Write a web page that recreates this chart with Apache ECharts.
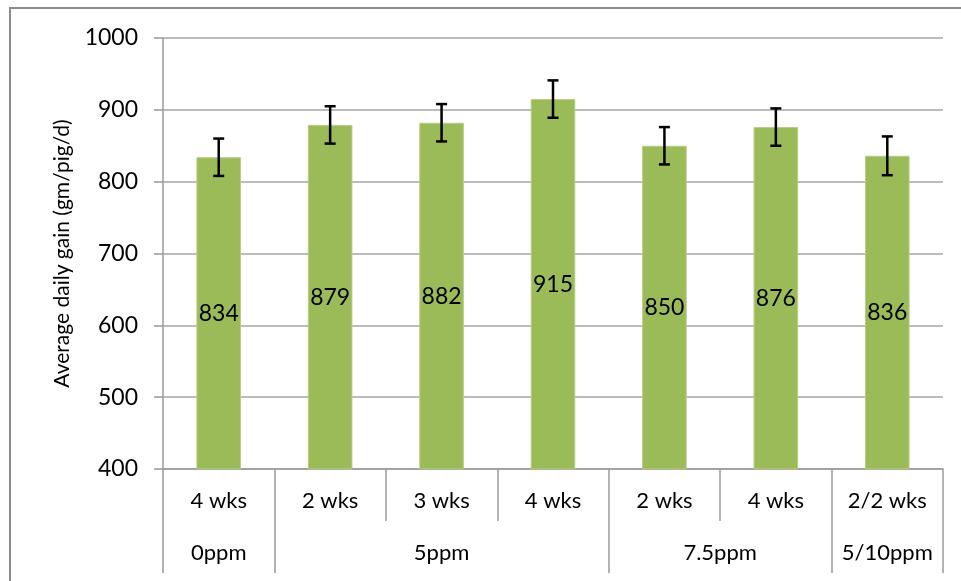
<!DOCTYPE html>
<html>
<head>
<meta charset="utf-8">
<script src="https://cdn.jsdelivr.net/npm/echarts@6/dist/echarts.min.js"></script>
<style>
html,body{margin:0;padding:0;background:#fff;}
#chart{width:961px;height:581px;}
</style>
</head>
<body>
<div id="chart"></div>
<script>
// ---- data ----
var weekLabels = ['4 wks', '2 wks', '3 wks', '4 wks', '2 wks', '4 wks', '2/2 wks'];
var doseLabels = ['', '0ppm', '', '', '', '5ppm', '', '', '', '', '7.5ppm', '', '', '5/10ppm', ''];
var doseBoundaries = [0, 2, 8, 12, 14];
var gainValues = [834, 879, 882, 915, 850, 876, 836];
var errorValues = [26, 26, 26, 26, 26, 26, 27];
var yTicks = { min: 400, max: 1000, interval: 100 };
var yTitle = 'Average daily gain (gm/pig/d)';

var FONT = 'Lato';
var errData = gainValues.map(function (v, i) { return [i, v - errorValues[i], v + errorValues[i]]; });

var chart = echarts.init(document.getElementById('chart'), null, { renderer: 'canvas' });
chart.setOption({
  animation: false,
  backgroundColor: '#ffffff',
  textStyle: { fontFamily: FONT },
  graphic: [{
    type: 'rect',
    shape: { x: 10, y: 8, width: 1000, height: 700 },
    style: { fill: 'none', stroke: '#8c8c8c', lineWidth: 2 },
    silent: true
  }],
  grid: { left: 163, right: 18, top: 38, bottom: 112 },
  xAxis: [{
    type: 'category',
    data: weekLabels,
    position: 'bottom',
    boundaryGap: true,
    axisLine: { show: true, lineStyle: { color: '#9a9a9a', width: 1.5 } },
    axisTick: { show: true, length: 52, lineStyle: { color: '#9a9a9a', width: 1.5 } },
    axisLabel: { interval: 0, margin: 21, color: '#000', fontSize: 22, fontFamily: FONT },
    splitLine: { show: false }
  }, {
    type: 'category',
    data: doseLabels,
    position: 'bottom',
    offset: 52,
    boundaryGap: false,
    axisLine: { show: false },
    axisTick: {
      show: true, length: 52,
      interval: function (idx) { return doseBoundaries.indexOf(idx) >= 0; },
      lineStyle: { color: '#9a9a9a', width: 1.5 }
    },
    axisLabel: { interval: 0, margin: 21, color: '#000', fontSize: 22, fontFamily: FONT },
    splitLine: { show: false }
  }],
  yAxis: {
    type: 'value',
    min: yTicks.min, max: yTicks.max, interval: yTicks.interval,
    name: yTitle,
    nameLocation: 'middle',
    nameGap: 90,
    nameTextStyle: { color: '#000', fontSize: 21, fontFamily: FONT },
    axisLine: { show: true, lineStyle: { color: '#9a9a9a', width: 1.5 } },
    axisTick: { show: true, length: 9, lineStyle: { color: '#9a9a9a', width: 1.5 } },
    axisLabel: { margin: 25, color: '#000', fontSize: 23, fontFamily: FONT, formatter: function (v) { return String(v); } },
    splitLine: { show: true, lineStyle: { color: '#a6a6a6', width: 1.5 } }
  },
  series: [{
    type: 'bar',
    data: gainValues,
    xAxisIndex: 0,
    barWidth: '40%',
    itemStyle: { color: '#9bbb59', borderColor: '#b5cd85', borderWidth: 1 },
    label: { show: true, position: 'inside', color: '#000', fontSize: 23, fontFamily: FONT },
    z: 2
  }, {
    type: 'custom',
    xAxisIndex: 0,
    data: errData,
    encode: { x: 0, y: [1, 2] },
    z: 5,
    renderItem: function (params, api) {
      var i = api.value(0);
      var lo = api.coord([i, api.value(1)]);
      var hi = api.coord([i, api.value(2)]);
      var hw = 5.5;
      var st = { stroke: '#000', lineWidth: 2.5 };
      return {
        type: 'group',
        children: [
          { type: 'line', shape: { x1: hi[0], y1: hi[1], x2: lo[0], y2: lo[1] }, style: st },
          { type: 'line', shape: { x1: hi[0] - hw, y1: hi[1], x2: hi[0] + hw, y2: hi[1] }, style: st },
          { type: 'line', shape: { x1: lo[0] - hw, y1: lo[1], x2: lo[0] + hw, y2: lo[1] }, style: st }
        ]
      };
    }
  }]
});
</script>
</body>
</html>
